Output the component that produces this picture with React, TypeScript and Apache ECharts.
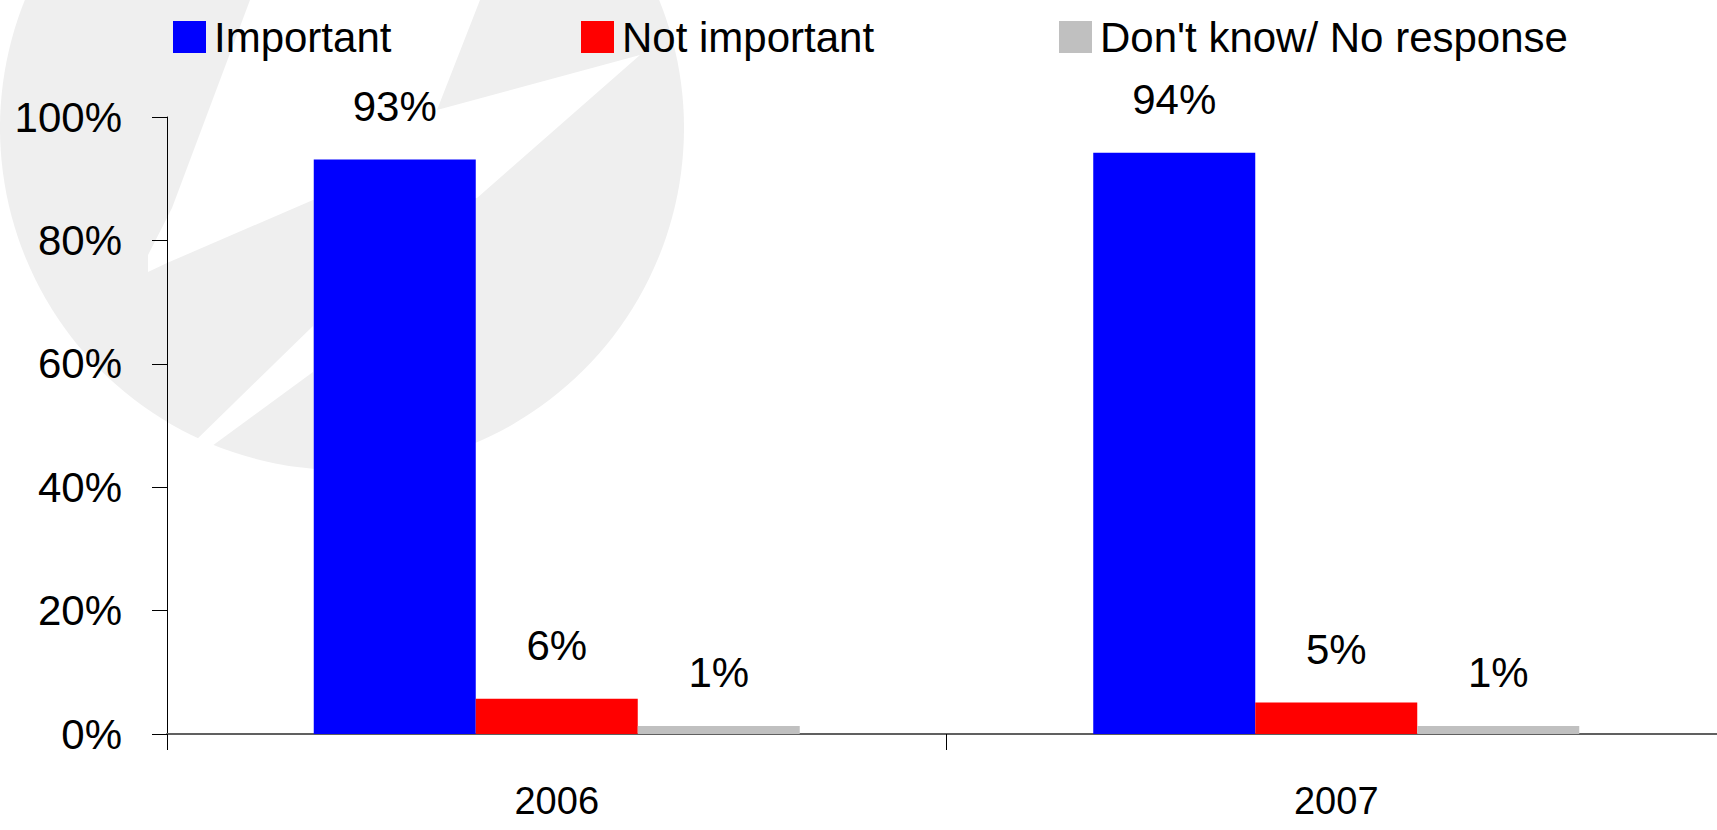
import React, { useEffect, useRef } from "react";
import * as echarts from "echarts";

const categories = ["2006", "2007"];
const seriesNames = ["Important", "Not important", "Don't know/ No response"];
const importantValues = [93.1, 94.2];
const notImportantValues = [5.7, 5.1];
const dontKnowValues = [1.3, 1.3];
const seriesColors = ["#0000FF", "#FF0000", "#C0C0C0"];
const yTicks = { min: 0, max: 100, interval: 20 };

const FONT = "'Liberation Sans', Arial, sans-serif";

export default function App() {
  const ref = useRef<HTMLDivElement>(null);
  useEffect(() => {
    if (!ref.current) return;
    const chart = echarts.init(ref.current, null, { renderer: "svg" });
    const values = [importantValues, notImportantValues, dontKnowValues];
    const legendLefts = [168, 576, 1054];
    chart.setOption({
      animation: false,
      backgroundColor: "#ffffff",
      textStyle: { fontFamily: FONT },
      graphic: [
        {
          type: "group",
          z: -10,
          silent: true,
          children: [
            { type: "circle", shape: { cx: 342, cy: 128, r: 342 }, style: { fill: "#efefef" } },
            {
              type: "polygon",
              shape: {
                points: [
                  [250, -300], [480, -300], [480, 0], [437, 110], [640, 55],
                  [477, 198], [313, 200], [167, 263], [148, 272], [148, 255],
                  [172, 208], [250, 0],
                ],
              },
              style: { fill: "#ffffff" },
            },
            {
              type: "polygon",
              shape: { points: [[313, 326], [313, 372], [212, 446], [190, 446]] },
              style: { fill: "#ffffff" },
            },
          ],
        },
      ],
      legend: seriesNames.map((name, i) => ({
        data: [name],
        left: legendLefts[i],
        top: 1,
        icon: "rect",
        itemWidth: 33,
        itemHeight: 32,
        selectedMode: false,
        textStyle: {
          fontFamily: FONT,
          fontSize: 42,
          color: "#000",
          lineHeight: 48,
          padding: [0, 0, 14, 3],
        },
      })),
      grid: { left: 167, right: 0, top: 117, bottom: 96, containLabel: false },
      xAxis: {
        type: "category",
        data: categories,
        axisLine: { show: true, lineStyle: { color: "#606060", width: 2 } },
        axisTick: { show: true, length: 16, lineStyle: { color: "#000", width: 1 } },
        axisLabel: { fontFamily: FONT, fontSize: 38, color: "#000", margin: 48 },
      },
      yAxis: {
        type: "value",
        min: yTicks.min,
        max: yTicks.max,
        interval: yTicks.interval,
        axisLine: { show: true, lineStyle: { color: "#000", width: 1 } },
        axisTick: { show: true, length: 15, lineStyle: { color: "#000", width: 1 } },
        splitLine: { show: false },
        axisLabel: { fontFamily: FONT, fontSize: 42, color: "#000", margin: 45, formatter: "{value}%" },
      },
      series: seriesNames.map((name, i) => ({
        name,
        type: "bar",
        data: values[i],
        barWidth: 162,
        barGap: "0%",
        itemStyle: { color: seriesColors[i] },
        label: {
          show: true,
          position: "top",
          distance: 32,
          fontFamily: FONT,
          fontSize: 42,
          color: "#000",
          formatter: (p: any) => Math.round(p.value) + "%",
        },
      })),
    });
    return () => chart.dispose();
  }, []);
  return (
    <div
      ref={ref}
      style={{ position: "fixed", left: 0, top: 0, width: 1726, height: 830 }}
    />
  );
}
